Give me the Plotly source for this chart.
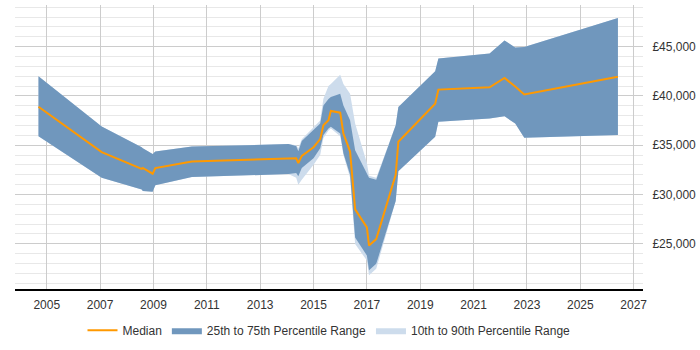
import plotly.graph_objects as go

years = [2004.69, 2007.06, 2008.56, 2008.6, 2008.97, 2009.07, 2010.44, 2014.06, 2014.35, 2014.43,
         2014.56, 2015.0, 2015.25, 2015.37, 2015.56, 2015.65, 2016.0, 2016.12, 2016.37, 2016.56,
         2017.0, 2017.08, 2017.35, 2018.08, 2018.18, 2019.56, 2019.68, 2021.6, 2022.16, 2022.56,
         2022.9, 2026.41]
p10 = [35900, 31700, 30500, 30350, 30270, 30950, 31780, 32070, 31700, 31000,
       31500, 33020, 34020, 35700, 36500, 36700, 35900, 34000, 31700, 24980,
       23300, 21810, 22470, 29340, 32350, 35860, 37370, 37700, 37930, 37200,
       35760, 36030]
p25 = [35900, 31700, 30500, 30350, 30270, 30950, 31780, 32070, 32180, 31850,
       32680, 33680, 34690, 36030, 36700, 36870, 36190, 34190, 32010, 25650,
       23820, 22310, 22970, 29340, 32350, 35860, 37370, 37700, 37930, 37200,
       35760, 36030]
median = [38900, 34300, 32600, 32700, 32110, 32680, 33350, 33650, 33680, 33180,
          33920, 34800, 35620, 37030, 37530, 38470, 38300, 36190, 34360, 28490,
          26660, 24820, 25480, 32010, 35360, 39200, 40640, 40880, 41820, 40950,
          40150, 41950]
p75 = [42000, 36900, 34800, 34700, 34120, 34360, 34860, 35120, 34920, 34400,
       35420, 36530, 37200, 39040, 39700, 39880, 40210, 39040, 37530, 34500,
       32200, 31700, 31500, 37030, 38880, 42490, 43800, 44300, 45630, 44900,
       44960, 47910]
p90 = [42000, 36900, 34800, 34700, 34120, 34360, 34860, 35120, 35000, 34700,
       35600, 36800, 37500, 39710, 41000, 41210, 42150, 41210, 40210, 37200,
       33200, 31900, 31700, 37030, 38880, 42490, 43800, 44300, 45630, 44900,
       44960, 47910]

x_ticks = [2005, 2007, 2009, 2011, 2013, 2015, 2017, 2019, 2021, 2023, 2025, 2027]

FONT = "Liberation Sans, Arial, sans-serif"
DARK = "#7097bd"
LIGHT = "#cddcec"
ORANGE = "#ff9900"

fig = go.Figure()

fig.add_trace(go.Scatter(
    x=years + years[::-1], y=p90 + p10[::-1],
    fill="toself", fillcolor=LIGHT, line=dict(width=0, color=LIGHT),
    mode="lines", name="10th to 90th Percentile Range", legendrank=3, hoverinfo="skip"))
fig.add_trace(go.Scatter(
    x=years + years[::-1], y=p75 + p25[::-1],
    fill="toself", fillcolor=DARK, line=dict(width=0, color=DARK),
    mode="lines", name="25th to 75th Percentile Range", legendrank=2, hoverinfo="skip"))
fig.add_trace(go.Scatter(
    x=years, y=median, mode="lines", line=dict(color=ORANGE, width=2),
    name="Median", legendrank=1))

fig.update_layout(
    width=700, height=350,
    margin=dict(l=15, r=57, t=5, b=58),
    paper_bgcolor="white", plot_bgcolor="white",
    font=dict(family=FONT, size=12, color="#333333"),
    showlegend=True,
    legend=dict(orientation="h", x=0.5, xanchor="center", y=-0.145, yanchor="middle",
                font=dict(family=FONT, size=12, color="#333333"),
                itemwidth=30, traceorder="normal"),
)

fig.update_xaxes(
    range=[2003.81, 2027.35],
    tickmode="array", tickvals=x_ticks, ticktext=[str(t) for t in x_ticks],
    showgrid=True, gridcolor="#cccccc", gridwidth=1,
    showline=True, linecolor="#000000", linewidth=1.5,
    ticks="outside", ticklen=4, tickcolor="rgba(0,0,0,0)",
    zeroline=False,
    tickfont=dict(family=FONT, size=12, color="#333333"),
)
fig.update_yaxes(
    range=[20420, 49220], side="right",
    dtick=5000, tick0=0, tickprefix="£", tickformat=",",
    showgrid=True, gridcolor="#cccccc", gridwidth=1,
    minor=dict(dtick=1000, tick0=0, showgrid=True, gridcolor="#e8e8e8", gridwidth=1),
    showline=False, zeroline=False,
    ticks="outside", ticklen=6, tickcolor="rgba(0,0,0,0)",
    tickfont=dict(family=FONT, size=12, color="#333333"),
)

fig.write_html("out.html")
